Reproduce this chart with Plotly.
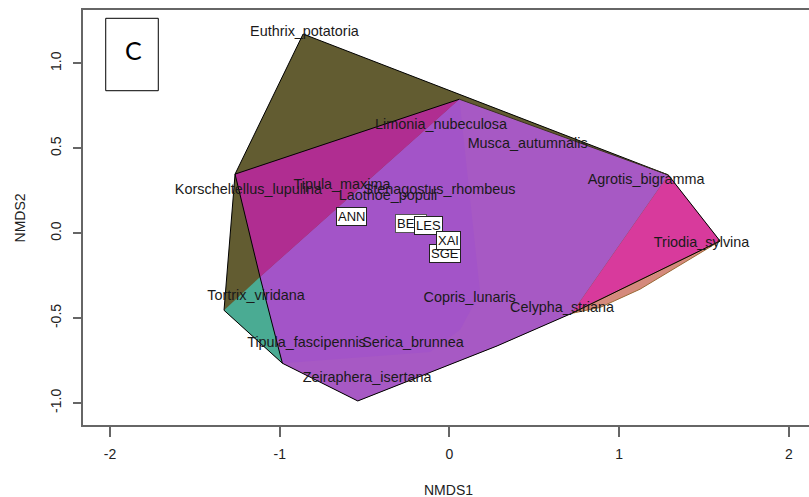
import plotly.graph_objects as go

# ---------------- data (NMDS coordinates) ----------------
species = ["Euthrix_potatoria", "Limonia_nubeculosa", "Musca_autumnalis", "Agrotis_bigramma",
           "Korscheltellus_lupulina", "Tipula_maxima", "Laothoe_populi", "Stenagostus_rhombeus",
           "Triodia_sylvina", "Tortrix_viridana", "Copris_lunaris", "Celypha_striana",
           "Tipula_fascipennis", "Serica_brunnea", "Zeiraphera_isertana"]
species_x = [-0.854, -0.049, 0.461, 1.159, -1.184, -0.633, -0.362, -0.058,
             1.486, -1.139, 0.119, 0.664, -0.842, -0.214, -0.485]
species_y = [1.185, 0.637, 0.525, 0.313, 0.251, 0.284, 0.216, 0.254,
             -0.058, -0.370, -0.382, -0.441, -0.647, -0.647, -0.856]

sites = ["ANN", "BE", "LES", "SGE", "XAI"]
sites_x = [-0.574, -0.224, -0.123, -0.023, -0.005]
sites_y = [0.097, 0.056, 0.045, -0.122, -0.045]

# hull polygons (NMDS1, NMDS2)
olive_x = [-0.862, 1.290, 1.595, 0.721, 0.281, -0.540, -0.984, -1.328, -1.263]
olive_y = [1.173, 0.343, -0.046, -0.472, -0.664, -0.988, -0.766, -0.454, 0.348]
purple_x = [0.059, 1.290, 0.721, 0.281, -0.540, -0.984, -1.116]
purple_y = [0.789, 0.343, -0.472, -0.664, -0.988, -0.766, -0.258]
purple2_x = [0.059, 0.181, 0.063, -0.114, -0.984, -1.116]
purple2_y = [0.789, -0.351, -0.569, -0.700, -0.766, -0.258]
magenta_x = [-1.263, 0.059, -1.116]
magenta_y = [0.348, 0.789, -0.258]
teal_x = [-1.328, -1.116, -0.984]
teal_y = [-0.454, -0.258, -0.766]
pink_x = [1.290, 1.595, 0.721]
pink_y = [0.343, -0.046, -0.472]
salmon_x = [0.721, 0.888, 1.123, 1.330, 1.524, 1.595]
salmon_y = [-0.472, -0.437, -0.330, -0.205, -0.088, -0.046]

# black hull borders
outline_x = [-0.862, 1.290, 1.595, 0.721, 0.281, -0.540, -0.984, -1.328, -1.263, -0.862]
outline_y = [1.173, 0.343, -0.046, -0.472, -0.664, -0.988, -0.766, -0.454, 0.348, 1.173]
inner_x = [0.059, -1.263, -1.116, -0.984]
inner_y = [0.789, 0.348, -0.258, -0.766]
top_x = [0.059, 1.290]
top_y = [0.789, 0.343]

x_ticks = [-2, -1, 0, 1, 2]
x_ticktext = ["-2", "-1", "0", "1", "2"]
y_ticks = [-1.0, -0.5, 0.0, 0.5, 1.0]
y_ticktext = ["-1.0", "-0.5", "0.0", "0.5", "1.0"]

FONT = "Liberation Sans, Arial, sans-serif"

fig = go.Figure()

def poly(xs, ys, color, lc=None, lw=0):
    fig.add_trace(go.Scatter(x=xs + xs[:1], y=ys + ys[:1], mode="lines", fill="toself",
                             fillcolor=color, line=dict(color=lc or color, width=lw),
                             hoverinfo="skip", showlegend=False))

poly(olive_x, olive_y, "#625c31")
poly(purple_x, purple_y, "#a759c4")
poly(purple2_x, purple2_y, "#a354c8")
poly(magenta_x, magenta_y, "#b02d91")
poly(teal_x, teal_y, "#4aab93")
poly(pink_x, pink_y, "#d83a9c")
poly(salmon_x, salmon_y, "#d58a7c", lc="#9a6a36", lw=1)

for xs, ys, w, c in [(outline_x, outline_y, 1, "black"), (inner_x, inner_y, 1, "black"),
                     (top_x, top_y, 1, "#3a3020")]:
    fig.add_trace(go.Scatter(x=xs, y=ys, mode="lines", line=dict(color=c, width=w),
                             hoverinfo="skip", showlegend=False))

fig.add_trace(go.Scatter(x=species_x, y=species_y, mode="text", text=species,
                         textposition="middle center",
                         textfont=dict(family=FONT, size=14.4, color="#1a1a1a"),
                         hoverinfo="skip", showlegend=False))

for s, sx, sy in zip(sites, sites_x, sites_y):
    ann = dict(x=sx, y=sy, xref="x", yref="y", text=s, showarrow=False,
               xanchor="center", yanchor="middle",
               font=dict(family=FONT, size=13, color="#111"), bgcolor="white",
               bordercolor="#222", borderwidth=1, borderpad=1)
    if s == "BE":
        ann.update(width=28, align="left", bordercolor="#555")
    fig.add_annotation(**ann)

# panel letter box
fig.add_shape(type="rect", xref="paper", yref="paper", x0=0.0313, x1=0.1037, y0=0.8055, y1=0.980,
              line=dict(color="black", width=1), fillcolor="white")
fig.add_annotation(x=0.0693, y=0.9036, xref="paper", yref="paper", text="C", showarrow=False,
                   xanchor="center", yanchor="middle",
                   font=dict(family="Lato, sans-serif", size=25, color="black"))

fig.add_annotation(x=0.504, y=-0.1566, xref="paper", yref="paper", text="NMDS1", showarrow=False,
                   font=dict(family=FONT, size=14, color="#222"), xanchor="center", yanchor="middle")
fig.add_annotation(x=-0.0868, y=0.5, xref="paper", yref="paper", text="NMDS2", showarrow=False,
                   textangle=-90, font=dict(family=FONT, size=14, color="#222"),
                   xanchor="center", yanchor="middle")

fig.update_layout(
    width=809, height=497,
    margin=dict(l=83, r=0, t=10, b=72, autoexpand=False),
    plot_bgcolor="white", paper_bgcolor="white",
    xaxis=dict(range=[-2.159, 2.119], tickvals=x_ticks, ticktext=x_ticktext, showgrid=False,
               zeroline=False, showline=True, linecolor="#666", linewidth=1.5, mirror=True,
               ticks="outside", ticklen=10, tickcolor="#666", tickwidth=1.5, automargin=False,
               ticklabelstandoff=5,
               tickfont=dict(family=FONT, size=14, color="#222")),
    yaxis=dict(range=[-1.1296, 1.3145], tickvals=y_ticks, ticktext=y_ticktext, showgrid=False,
               zeroline=False, showline=True, linecolor="#666", linewidth=1.5, mirror=False,
               ticks="outside", ticklen=8, tickcolor="#666", tickwidth=1.5, tickangle=-90,
               automargin=False, ticklabelstandoff=7,
               tickfont=dict(family=FONT, size=14, color="#222")),
)

fig.write_html("out.html", post_script="document.body.style.margin='0px';",
               config={"displayModeBar": False})
